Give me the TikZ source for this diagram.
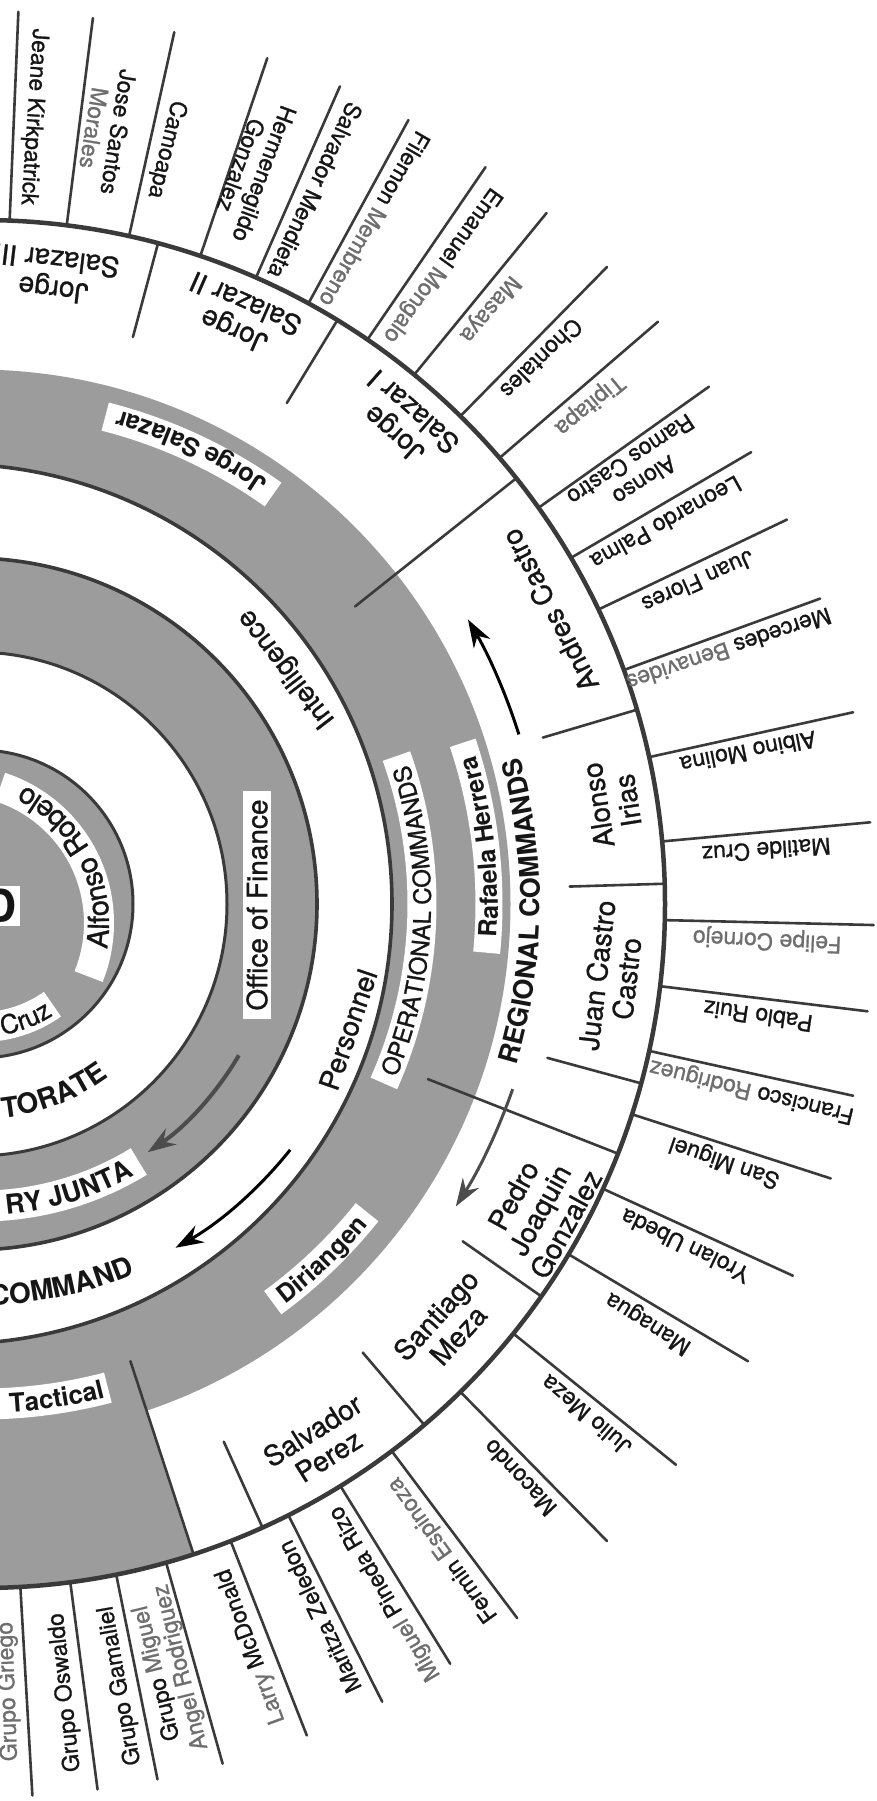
\documentclass[tikz,border=0pt]{standalone}
\usepackage{fontspec}
\setmainfont{TeX Gyre Heros}
\newfontfamily\medfont{TeX Gyre Heros}[FakeBold=1.0]
\usetikzlibrary{decorations.text,arrows.meta}
\definecolor{ringgray}{HTML}{9C9C9C}
\definecolor{linec}{HTML}{3A3A3A}
\definecolor{txtc}{HTML}{161616}
\definecolor{lightt}{HTML}{6E6E6E}
\definecolor{arrgray}{HTML}{4C4C4C}
\newcommand{\gr}[1]{\textcolor{lightt}{#1}}
\newcommand{\arctext}[5]{\path[decorate,decoration={text along path,text={#5},text align=#4}] (#2:#1) arc[start angle=#2,end angle=#3,radius=#1];}
\newcommand{\wband}[4]{\draw[white,line width=#4] (#2:#1) arc[start angle=#2,end angle=#3,radius=#1];}
\tikzset{
  spoke/.style={draw=linec, line width=2.6pt, line cap=round},
  ringline/.style={draw=linec, line width=3.6pt},
  plabel/.style={font=\medfont\fontsize{23}{25}\selectfont, text=txtc, align=center, inner sep=0pt},
  rlabel/.style={font=\medfont\fontsize{28}{30}\selectfont, text=txtc, align=center, inner sep=0pt},
  wlabel/.style={font=\medfont\fontsize{28}{30}\selectfont, text=txtc, inner sep=0pt},
  arr/.style={line width=3pt, -{Stealth[length=28pt,width=19pt]}}
}
\begin{document}
\begin{tikzpicture}[x=1pt,y=1pt]
\useasboundingbox (0,0) rectangle (877,-1801);
\fill[white] (0,0) rectangle (877,-1801);
\begin{scope}[shift={(-19,-904)}]
% ---- ring fills
\fill[ringgray] (-5,0) circle[radius=534.5];
\fill[ringgray] (-71.9:528) -- (-71.9:684) arc[start angle=-71.9,end angle=-100,radius=684] -- (-100:528) -- cycle;
\fill[white] (-29,0) circle[radius=440];
\fill[ringgray] (-10,0) circle[radius=346];
\fill[white] (-6,0) circle[radius=252];
\fill[ringgray] (-2,0) circle[radius=154];
% ---- ring lines
\draw[ringline, line width=4.5pt] (0,0) circle[radius=684];
\draw[ringline] (-29,0) circle[radius=440];
\draw[ringline] (-10,0) circle[radius=346];
\draw[ringline, line width=3pt] (-6,0) circle[radius=252];
\draw[ringline, line width=3pt] (-2,0) circle[radius=154];
% ---- outer spokes
\foreach \a in {87.6,82.8,77.5,71.3,66.3,61.4,55.6,50.7,45.5,40.7,35.4,30.4,25.5,20.0,12.4,5.25,-1.35,-6.9,-12.4,-17.9,-24.6,-30.8,-38.9,-45.5,-53.1,-58.3,-63.3,-68.6,-74.3,-78.6,-82.5,-86.7}
  {\draw[spoke] (\a:684) -- (\a:893);}
% ---- inner dividers
\foreach \a/\r in {75/587,58.6/587,38.5/478,16.5/586,1.7/589,-15.2/587,-21.4/480,-35/588,-49.6/589,-65.7/590,-71.9/481}
  {\draw[spoke] (\a:684) -- (\a:\r);}
% ---- arrows
\draw[arr] (17.5:564) arc[start angle=17.5,end angle=30.3,radius=564];
\draw[arr, arrgray] (-19.2:563) arc[start angle=-19.2,end angle=-32.5,radius=563];
\draw[arr] (-38.5:395) arc[start angle=-38.5,end angle=-60.5,radius=395];
\draw[arr, arrgray, line width=4pt] (-30.4:299) arc[start angle=-30.4,end angle=-56.1,radius=299];
% ---- white boxes of curved labels
\wband{441}{-24}{19.6}{29pt}
\wband{508}{-5.5}{18.5}{27pt}
\wband{503}{54.5}{75.7}{29pt}
\wband{494}{-53.8}{-38.6}{29pt}
\wband{500}{-95}{-75.3}{31pt}
\wband{302}{-100}{-58.5}{31pt}
\wband{123}{-100}{-54.5}{30pt}
% ---- curved labels
\arctext{559}{-22}{20.4}{center}{|\fontsize{27}{27}\selectfont\bfseries\color{txtc}|REGIONAL COMMANDS}
\arctext{450}{-30}{25.4}{center}{|\medfont\fontsize{24}{24}\selectfont\color{txtc}|OPERATIONAL COMMANDS}
\arctext{517}{-13.5}{26.5}{center}{|\fontsize{25}{25}\selectfont\bfseries\color{txtc}|Rafaela Herrera}
\arctext{512}{45.1}{85.1}{center}{|\fontsize{25.5}{25.5}\selectfont\bfseries\color{txtc}|Jorge Salazar}
\arctext{503}{-56.2}{-36.2}{center}{|\fontsize{25}{25}\selectfont\bfseries\color{txtc}|Diriangen}
\arctext{509}{-91.3}{-71.3}{center}{|\fontsize{26}{26}\selectfont\bfseries\color{txtc}|Tactical}
\arctext{401}{-115}{-67.4}{right}{|\fontsize{28}{28}\selectfont\bfseries\color{txtc}|COMMAND}
\arctext{311.5}{-125}{-60.5}{right}{|\fontsize{27}{27}\selectfont\bfseries\color{txtc}|RY JUNTA}
\arctext{215}{-130}{-53.5}{right}{|\fontsize{28}{28}\selectfont\bfseries\color{txtc}|TORATE}
\arctext{132.5}{-110}{-57}{right}{|\medfont\fontsize{26}{26}\selectfont\color{txtc}|Cruz}
\begin{scope}[shift={(-25,-19)}]
\wband{143}{-22}{72}{30pt}
\arctext{153}{-40}{94}{center}{|\medfont\fontsize{29}{29}\selectfont\color{txtc}|Alfonso Robelo}
\end{scope}
% ---- straight ring labels
\node[wlabel, fill=white, rotate=90, inner xsep=8pt, inner ysep=3pt] (fin) at (276,-1) {Office of Finance};
\node[wlabel, rotate=127.6] (intel) at (37.6:386) {Intelligence};
\node[wlabel, rotate=71.1] (pers) at (-18.9:388) {Personnel};
\node[fill=white, font=\fontsize{46}{46}\selectfont\bfseries, text=txtc, inner sep=3pt] (dd) at (19.5,-2) {D};
% ---- regional command labels
\node[rlabel, rotate=173.3] (rs3) at (83.3:633) {Jorge\\Salazar III};
\node[rlabel, rotate=156.2] (rs2) at (66.2:641) {Jorge\\Salazar II};
\node[rlabel, rotate=138.7] (rs1) at (48.7:640) {Jorge\\Salazar I};
\node[rlabel, rotate=117.3] (rac) at (27.3:640) {Andres Castro};
\node[rlabel, rotate=99.1] (rai) at (9.1:640) {Alonso\\Irias};
\node[rlabel, rotate=83.4] (rjc) at (-6.6:635) {Juan Castro\\Castro};
\node[rlabel, rotate=61.3] (rpj) at (-28.7:637) {Pedro\\Joaquin\\Gonzalez};
\node[rlabel, rotate=47.9] (rsm) at (-42.1:628) {Santiago\\Meza};
\node[rlabel, rotate=32.2] (rsp) at (-57.8:637) {Salvador\\Perez};
% ---- spoke labels
\node[plabel, rotate=266.2] (p1) at (86.2:789) {Jeane Kirkpatrick};
\node[plabel, rotate=260.8] (p2) at (80.8:784) {Jose Santos\\\gr{Morales}};
\node[plabel, rotate=256.2] (p3) at (76.2:777) {Camoapa};
\node[plabel, rotate=249.7] (p4) at (69.7:783) {Hermenegildo\\Gonzalez};
\node[plabel, rotate=244.9] (p5) at (64.9:788) {Salvador Mendieta};
\node[plabel, rotate=240.1] (p6) at (60.1:790) {Filemon \gr{Membreno}};
\node[plabel, rotate=234.2] (p7) at (54.2:788) {Emanuel \gr{Mongalo}};
\node[plabel, rotate=229.5] (p8) at (49.5:783) {\gr{Masaya}};
\node[plabel, rotate=224.2] (p9) at (44.2:782) {Chontales};
\node[plabel, rotate=219.4] (p10) at (39.4:787) {\gr{Tipitapa}};
\node[plabel, rotate=213.45] (p11) at (33.45:787) {Alonso\\Ramos Castro};
\node[plabel, rotate=209.1] (p12) at (29.1:784) {Leonardo Palma};
\node[plabel, rotate=204.2] (p13) at (24.2:786) {Juan Flores};
\node[plabel, rotate=198.8] (p14) at (18.8:790) {Mercedes \gr{Benavides}};
\node[plabel, rotate=191.2] (p15) at (11.2:782) {Albino Molina};
\node[plabel, rotate=183.9] (p16) at (3.9:787) {Matilde Cruz};
\node[plabel, rotate=177.4] (p17) at (-2.6:787) {\gr{Felipe Cornejo}};
\node[plabel, rotate=171.8] (p18) at (-8.2:785) {Pablo Ruiz};
\node[plabel, rotate=166.4] (p19) at (-13.6:793) {Francisco \gr{Rodriguez}};
\node[plabel, rotate=160.9] (p20) at (-19.1:787) {San Miguel};
\node[plabel, rotate=154.1] (p21) at (-25.9:783) {Yrolan Ubeda};
\node[plabel, rotate=147.9] (p22) at (-32.1:788) {Managua};
\node[plabel, rotate=139.8] (p23) at (-40.2:792) {Julio Meza};
\node[plabel, rotate=133.2] (p24) at (-46.8:787) {Macondo};
\node[plabel, rotate=125.6] (p25) at (-54.4:794) {Fermin \gr{Espinoza}};
\node[plabel, rotate=120.4] (p26) at (-59.6:799) {\gr{Miguel} Pineda Rizo};
\node[plabel, rotate=115.4] (p27) at (-64.6:789) {Maritza Zeledon};
\node[plabel, rotate=110.0] (p28) at (-70.0:790) {\gr{Larry} McDonald};
\node[plabel, rotate=103.8] (p29) at (-76.2:789) {Grupo \gr{Miguel}\\\gr{Angel Rodriguez}};
\node[plabel, rotate=100.1] (p30) at (-79.9:794) {Grupo Gamaliel};
\node[plabel, rotate=96.1] (p31) at (-83.9:793) {Grupo Oswaldo};
\node[plabel, rotate=92.0] (p32) at (-88.0:788) {\gr{Grupo Griego}};
\end{scope}
\end{tikzpicture}
\end{document}
